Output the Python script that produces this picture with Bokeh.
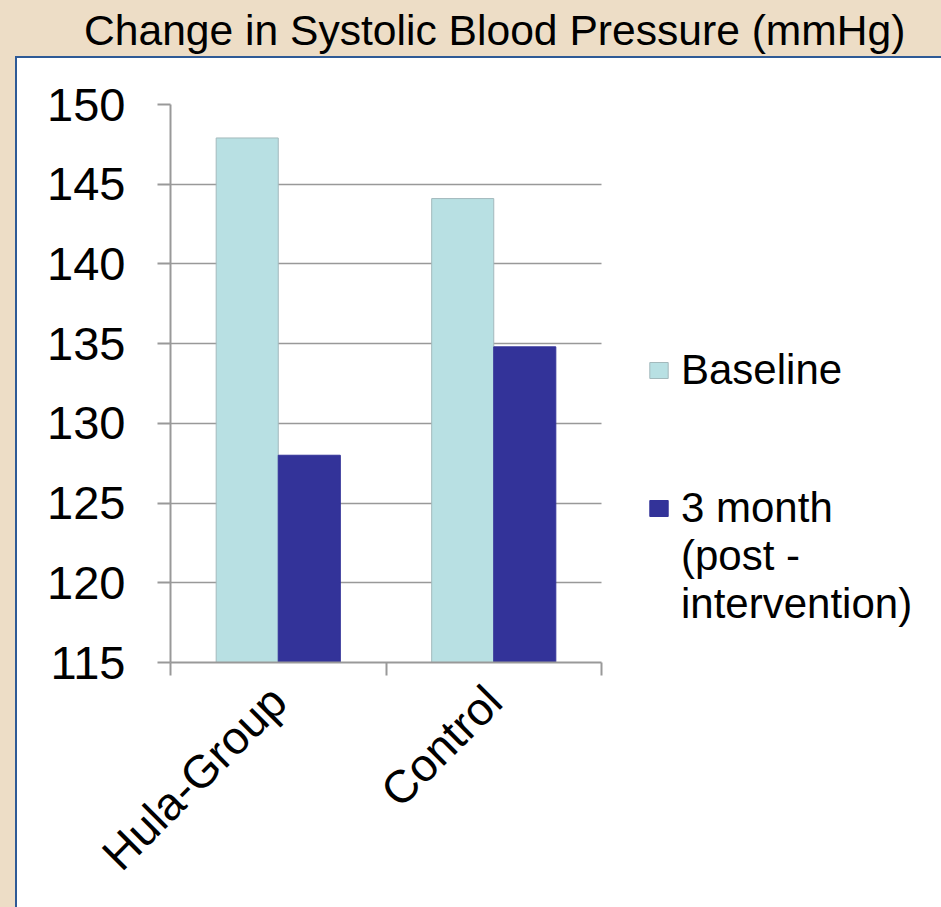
import math
from bokeh.plotting import figure
from bokeh.models import (Range1d, FixedTicker, Legend, LegendItem, Div, BoxAnnotation)
from bokeh.layouts import column
from bokeh.embed import file_html
from bokeh.resources import INLINE

# ---- data ----
title_text = "Change in Systolic Blood Pressure (mmHg)"
categories = ["Hula-Group", "Control"]
series_names = ["Baseline", "3 month", "(post -", "intervention)"]
baseline = [147.9, 144.1]
month3 = [128.0, 134.8]
y_ticks = [115, 120, 125, 130, 135, 140, 145, 150]

FONT = "Liberation Sans"
C_BASE = "#B8E0E3"
C_M3 = "#333399"
GRID = "#999999"
TAN = "#EDDDC6"
BLUE = "#2E5A96"

# layout (pixels)
FIG_W, FIG_H = 925, 842
B_LEFT, B_TOP, B_BOTTOM = 170, 45, 238
CAT_PX = 215.5            # width of one category slot
frame_w = FIG_W - B_LEFT
x_end = frame_w / CAT_PX  # visible extent in category units (chart ends at len(categories))

# category positions on a numeric axis: centres at i+0.5, boundaries at integers
n = len(categories)
centres = [i + 0.5 for i in range(n)]
bounds = [i for i in range(n + 1)]
bar_w = 0.288
x_base = [c - bar_w / 2 for c in centres]
x_m3 = [c + bar_w / 2 for c in centres]

title_div = Div(
    text=f'<div style="font-family:\'{FONT}\';font-size:42.6px;line-height:44px;padding-top:3px;'
         f'color:#000;padding-left:79px;white-space:nowrap;">{title_text}</div>',
    width=FIG_W, height=49,
)

p = figure(
    width=FIG_W, height=FIG_H,
    x_range=Range1d(0, x_end), y_range=Range1d(min(y_ticks), max(y_ticks)),
    output_backend="svg", toolbar_location=None,
    min_border_left=B_LEFT, min_border_top=B_TOP, min_border_right=0, min_border_bottom=B_BOTTOM,
    border_fill_alpha=0, background_fill_color="white",
    outline_line_color=None,
)

r1 = p.vbar(x=x_base, top=baseline, bottom=min(y_ticks), width=bar_w,
            fill_color=C_BASE, line_color="#A3B9BC", line_width=1)
r2 = p.vbar(x=x_m3, top=month3, bottom=min(y_ticks), width=bar_w,
            fill_color=C_M3, line_color=C_M3, line_width=1)
# invisible renderer used only for the continuation lines of the legend label
r_blank = p.vbar(x=[], top=[], width=bar_w, fill_alpha=0, line_alpha=0)

# hide grid lines to the right of the chart area (legend region)
p.add_layout(BoxAnnotation(left=n, fill_color="white", fill_alpha=1,
                           line_alpha=0, level="underlay"))

# y axis
p.yaxis.ticker = FixedTicker(ticks=y_ticks)
p.yaxis.major_label_text_font = FONT
p.yaxis.major_label_text_font_size = "47px"
p.yaxis.major_label_text_color = "black"
p.yaxis.axis_line_color = GRID
p.yaxis.axis_line_width = 2
p.yaxis.major_tick_line_color = GRID
p.yaxis.major_tick_line_width = 2
p.yaxis.major_tick_out = 13
p.yaxis.major_tick_in = 0
p.yaxis.minor_tick_line_color = None
p.yaxis.major_label_standoff = 32

# x axis
p.xaxis.bounds = (0, n)
p.xaxis.ticker = FixedTicker(ticks=centres, minor_ticks=bounds)
p.xaxis.major_label_overrides = {c: name for c, name in zip(centres, categories)}
p.xaxis.major_label_orientation = math.pi / 4
p.xaxis.major_label_text_font = FONT
p.xaxis.major_label_text_font_size = "46px"
p.xaxis.major_label_text_color = "black"
p.xaxis.major_label_standoff = 18
p.xaxis.major_tick_line_color = None
p.xaxis.major_tick_out = 0
p.xaxis.major_tick_in = 0
p.xaxis.minor_tick_line_color = GRID
p.xaxis.minor_tick_line_width = 2
p.xaxis.minor_tick_out = 13
p.xaxis.minor_tick_in = 0
p.xaxis.axis_line_color = GRID
p.xaxis.axis_line_width = 2

p.xgrid.grid_line_color = None
p.ygrid.ticker = FixedTicker(ticks=y_ticks)
p.ygrid.grid_line_color = GRID
p.ygrid.grid_line_width = 1.5


def make_legend(items, loc, spacing):
    return Legend(items=items, location=loc, orientation="vertical",
                  glyph_width=23, glyph_height=20, label_standoff=11,
                  label_text_font=FONT, label_text_font_size="42px",
                  label_text_color="black",
                  padding=0, margin=0, spacing=spacing,
                  border_line_color=None, background_fill_alpha=0)


lg1 = make_legend([LegendItem(label=series_names[0], renderers=[r1])], (477, 268), 0)
lg2 = make_legend([LegendItem(label=series_names[1], renderers=[r2]),
                   LegendItem(label=series_names[2], renderers=[r_blank]),
                   LegendItem(label=series_names[3], renderers=[r_blank])], (477, 34), -6)
p.add_layout(lg1, "center")
p.add_layout(lg2, "center")

layout = column(title_div, p, spacing=0)

html = file_html(layout, INLINE)
css = ("<style>body{background:"
       f"linear-gradient({BLUE},{BLUE}) 15px 56px/100% 2px no-repeat,"
       f"linear-gradient({BLUE},{BLUE}) 15px 56px/2px 100% no-repeat,"
       f"linear-gradient({TAN},{TAN}) 0 0/100% 56px no-repeat,"
       f"linear-gradient({TAN},{TAN}) 0 0/15px 100% no-repeat,#ffffff;}}</style>")
html = html.replace("</head>", css + "</head>", 1)
open("out.html", "w").write(html)
